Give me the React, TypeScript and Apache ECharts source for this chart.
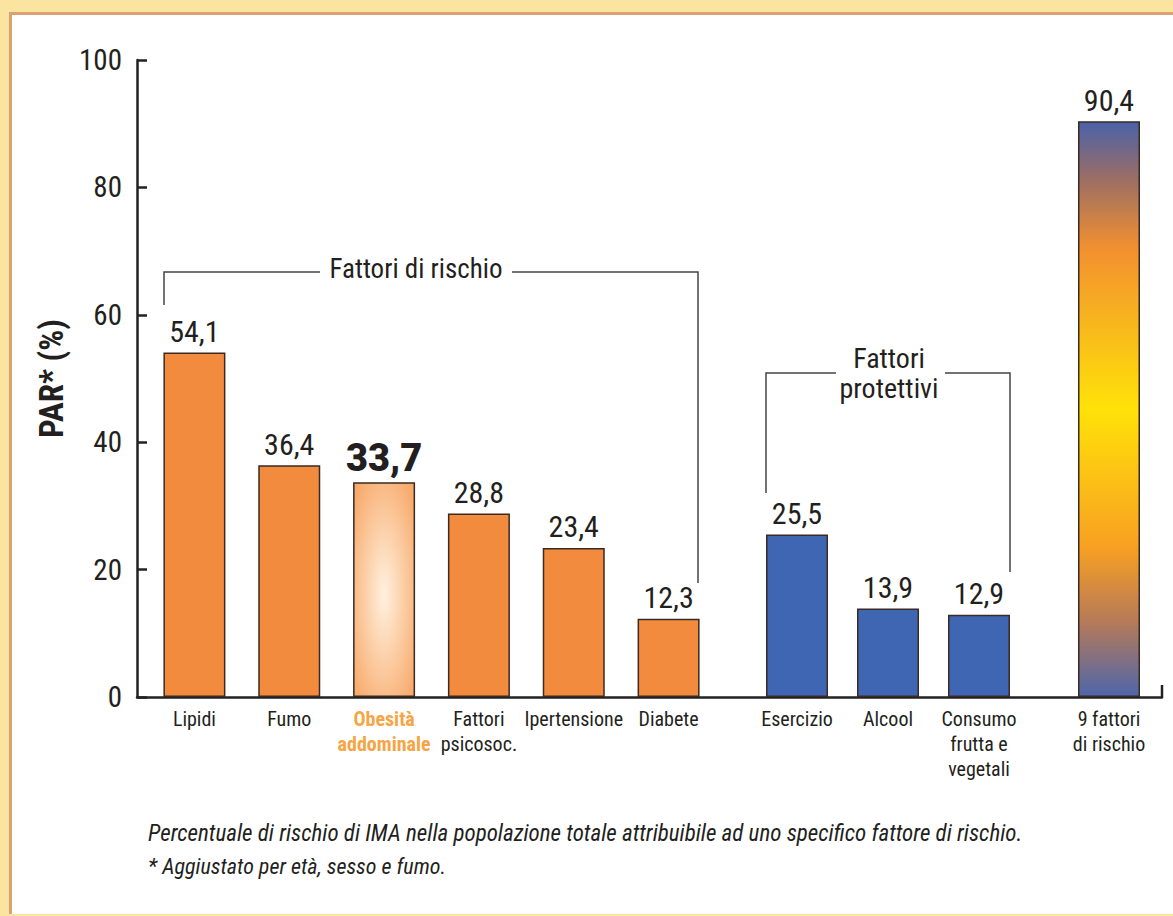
import React, { useEffect, useRef } from "react";
import * as echarts from "echarts";

const riskCategories = ["Lipidi", "Fumo", "Obesità\naddominale", "Fattori\npsicosoc.", "Ipertensione", "Diabete"];
const riskValues = [54.1, 36.4, 33.7, 28.8, 23.4, 12.3];
const protectiveCategories = ["Esercizio", "Alcool", "Consumo\nfrutta e\nvegetali"];
const protectiveValues = [25.5, 13.9, 12.9];
const totalCategories = ["9 fattori\ndi rischio"];
const totalValues = [90.4];
const yMin = 0;
const yMax = 100;
const yInterval = 20;
const highlighted = "Obesità\naddominale";
const captionLines = [
  "Percentuale di rischio di IMA nella popolazione totale attribuibile ad uno specifico fattore di rischio.",
  "* Aggiustato per età, sesso e fumo.",
];

const FONT = "'Roboto Condensed', 'DejaVu Sans Condensed', sans-serif";
const ORANGE = "#F38B3F";
const BLUE = "#3F66B2";
const INK = "#231F20";
const GRID_TOP = 60;
const GRID_BOTTOM = 219;

const fmt = (v: number) => v.toFixed(1).replace(".", ",");

function barAxis(idx: number, cats: string[]) {
  return {
    type: "category",
    gridIndex: idx,
    data: cats,
    axisLine: { show: false },
    axisTick: { show: false },
    axisLabel: {
      interval: 0,
      margin: 9,
      color: INK,
      fontFamily: FONT,
      fontSize: 20,
      lineHeight: 25,
      formatter: (v: string) =>
        v === highlighted
          ? v.split("\n").map((s) => `{hl|${s}}`).join("\n")
          : v,
      rich: {
        hl: { color: "#F6A444", fontWeight: "bold", fontFamily: FONT, fontSize: 20, lineHeight: 25 },
      },
    },
  };
}

function hiddenY(idx: number) {
  return { type: "value", gridIndex: idx, min: yMin, max: yMax, show: false };
}

function barSeries(idx: number, cats: string[], vals: number[], color: any) {
  return {
    type: "bar",
    xAxisIndex: idx,
    yAxisIndex: idx,
    barWidth: 62,
    data: vals.map((v, i) => {
      const isHl = cats[i] === highlighted;
      return {
        value: v,
        itemStyle: isHl
          ? {
              color: {
                type: "radial",
                x: 0.5,
                y: 0.52,
                r: 1.25,
                colorStops: [
                  { offset: 0, color: "#FFF1DF" },
                  { offset: 0.5, color: "#F8AD70" },
                  { offset: 1, color: ORANGE },
                ],
              },
            }
          : undefined,
        label: isHl
          ? { fontSize: 38, fontWeight: 900, fontFamily: "Roboto, 'Liberation Sans', sans-serif", distance: 5 }
          : undefined,
      };
    }),
    itemStyle: { color, borderColor: "#3A2A22", borderWidth: 1.5 },
    label: {
      show: true,
      position: "top",
      distance: 6,
      color: INK,
      fontFamily: FONT,
      fontSize: 30,
      formatter: (p: any) => fmt(p.value),
    },
  };
}

const gradTotal = {
  type: "linear",
  x: 0,
  y: 0,
  x2: 0,
  y2: 1,
  colorStops: [
    { offset: 0, color: "#4A62A8" },
    { offset: 0.1, color: "#9C6E64" },
    { offset: 0.22, color: "#F29030" },
    { offset: 0.5, color: "#FFE208" },
    { offset: 0.74, color: "#F8A022" },
    { offset: 0.87, color: "#B67A58" },
    { offset: 1, color: "#4E66AA" },
  ],
};

export default function App() {
  const ref = useRef<HTMLDivElement>(null);
  useEffect(() => {
    if (!ref.current) return;
    const chart = echarts.init(ref.current, undefined, { renderer: "svg" });
    const lineStyle = { stroke: "#444", lineWidth: 1.5, fill: null };
    chart.setOption({
      animation: false,
      backgroundColor: "transparent",
      grid: [
        { left: 137, right: 11, top: GRID_TOP, bottom: GRID_BOTTOM },
        { left: 147, width: 569, top: GRID_TOP, bottom: GRID_BOTTOM },
        { left: 751.5, width: 273, top: GRID_TOP, bottom: GRID_BOTTOM },
        { left: 1063, width: 92, top: GRID_TOP, bottom: GRID_BOTTOM },
      ],
      xAxis: [
        {
          type: "value",
          gridIndex: 0,
          min: 0,
          max: 1,
          axisLine: { show: true, lineStyle: { color: "#222", width: 2.5 } },
          axisTick: { show: false },
          axisLabel: { show: false },
          splitLine: { show: false },
        },
        barAxis(1, riskCategories),
        barAxis(2, protectiveCategories),
        barAxis(3, totalCategories),
      ],
      yAxis: [
        {
          type: "value",
          gridIndex: 0,
          min: yMin,
          max: yMax,
          interval: yInterval,
          name: "PAR* (%)",
          nameLocation: "middle",
          nameRotate: 90,
          nameGap: 66,
          nameTextStyle: { color: INK, fontFamily: FONT, fontSize: 33, fontWeight: "bold" },
          axisLine: { show: true, lineStyle: { color: "#222", width: 2.5 } },
          axisTick: { show: true, inside: true, length: 10, lineStyle: { color: "#222", width: 2.5 } },
          axisLabel: { color: INK, fontFamily: FONT, fontSize: 29, margin: 15 },
          splitLine: { show: false },
        },
        hiddenY(1),
        hiddenY(2),
        hiddenY(3),
      ],
      series: [
        barSeries(1, riskCategories, riskValues, ORANGE),
        barSeries(2, protectiveCategories, protectiveValues, BLUE),
        barSeries(3, totalCategories, totalValues, gradTotal),
      ],
      graphic: [
        { type: "line", shape: { x1: 1162, y1: 697, x2: 1162, y2: 685 }, style: { stroke: "#222", lineWidth: 2.5 } },
        { type: "polyline", shape: { points: [[164, 305], [164, 272], [320, 272]] }, style: lineStyle },
        { type: "polyline", shape: { points: [[512, 272], [698, 272], [698, 583]] }, style: lineStyle },
        {
          type: "text",
          x: 416,
          y: 269,
          style: { text: "Fattori di rischio", fill: INK, font: `27px ${FONT}`, textAlign: "center", textVerticalAlign: "middle" },
        },
        { type: "polyline", shape: { points: [[766, 493], [766, 373], [836, 373]] }, style: lineStyle },
        { type: "polyline", shape: { points: [[945, 373], [1010, 373], [1010, 572]] }, style: lineStyle },
        {
          type: "text",
          x: 889,
          y: 358,
          style: { text: "Fattori", fill: INK, font: `28px ${FONT}`, textAlign: "center", textVerticalAlign: "middle" },
        },
        {
          type: "text",
          x: 889,
          y: 388,
          style: { text: "protettivi", fill: INK, font: `28px ${FONT}`, textAlign: "center", textVerticalAlign: "middle" },
        },
        {
          type: "text",
          x: 148,
          y: 833,
          style: { text: captionLines[0], fill: INK, font: `italic 23px ${FONT}`, textVerticalAlign: "middle" },
        },
        {
          type: "text",
          x: 148,
          y: 866,
          style: { text: captionLines[1], fill: INK, font: `italic 22px ${FONT}`, textVerticalAlign: "middle" },
        },
      ],
    });
    return () => chart.dispose();
  }, []);

  return (
    <div style={{ position: "fixed", left: 0, top: 0, width: 1173, height: 916, background: "#FBE3A0", overflow: "hidden" }}>
      <div
        style={{
          position: "absolute",
          left: 9,
          top: 12,
          right: 0,
          bottom: 2,
          background: "#FFFFFF",
          borderLeft: "3px solid #DCA173",
          borderTop: "3px solid #DCA173",
        }}
      />
      <div ref={ref} style={{ position: "absolute", left: 0, top: 0, width: 1173, height: 916 }} />
    </div>
  );
}
